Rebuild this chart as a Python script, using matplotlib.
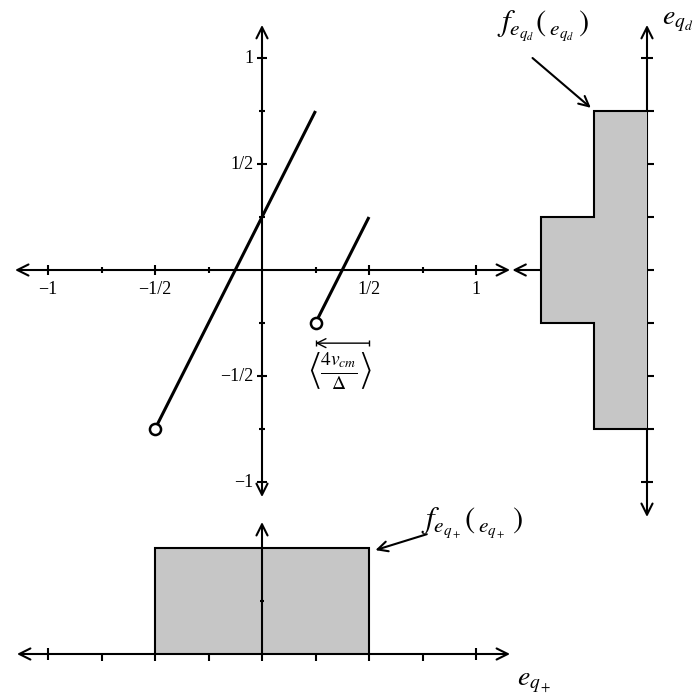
import matplotlib
matplotlib.use("Agg")
import matplotlib.pyplot as plt

plt.rcParams["font.family"] = ["Liberation Serif", "DejaVu Serif"]
plt.rcParams["mathtext.fontset"] = "stix"

# transfer characteristic: two branches of slope 2, open circle at each lower end
branch_x = [[-0.5, 0.25], [0.25, 0.5]]
branch_y = [[-0.75, 0.75], [-0.25, 0.25]]

# pdf of e_qd (right panel) and of e_q+ (bottom panel)
qd_edges = [-0.75, -0.25, 0.25, 0.75]
qd_density = [0.5, 1.0, 0.5]
qp_edges = [-0.5, 0.5]
qp_density = [1.0]

major_ticks = [-1, -0.5, 0.5, 1]
major_labels = ["\u22121", "\u22121/2", "1/2", "1"]
minor_ticks = [-0.75, -0.25, 0.25, 0.75]
quarter_ticks = [-0.75, -0.5, -0.25, 0, 0.25, 0.5, 0.75]

# width of the step between the two branches
step_lo, step_hi = 0.25, 0.5
step_y = -0.345

W = H = 700
FILL = "#c6c6c6"
LW = 1.5


def add_px_axes(fig, x0, y0, x1, y1):
    ax = fig.add_axes([x0 / W, 1 - y1 / H, (x1 - x0) / W, (y1 - y0) / H])
    ax.set_axis_off()
    ax.patch.set_alpha(0)
    return ax


def arrow(ax, start, end, style="->", lw=LW, scale=20, z=2):
    ax.annotate("", xy=end, xytext=start,
                arrowprops=dict(arrowstyle=style, lw=lw, color="k",
                                mutation_scale=scale, shrinkA=0, shrinkB=0),
                zorder=z)


fig = plt.figure(figsize=(7, 7), dpi=100)

# main plot
ax = add_px_axes(fig, 0, 0, 520, 520)
ax.set_xlim(-1.2243, 1.2056)
ax.set_ylim(-1.1792, 1.2736)

arrow(ax, (-1.154, 0), (1.159, 0), "<->")
arrow(ax, (0, -1.071), (0, 1.156), "<->")

ax.plot(major_ticks, [0] * 4, ls="none", marker="|", ms=7, mew=LW, color="k")
ax.plot(minor_ticks, [0] * 4, ls="none", marker="|", ms=4, mew=LW, color="k")
ax.plot([0] * 4, major_ticks, ls="none", marker="_", ms=7, mew=LW, color="k")
ax.plot([0] * 4, minor_ticks, ls="none", marker="_", ms=4, mew=LW, color="k")

for v, lab in zip(major_ticks, major_labels):
    ax.annotate(lab, (v, 0), xytext=(0, -8), textcoords="offset points",
                ha="center", va="top", fontsize=13)
    ax.annotate(lab, (0, v), xytext=(-6, 0), textcoords="offset points",
                ha="right", va="center", fontsize=13)

for bx, by in zip(branch_x, branch_y):
    ax.plot(bx, by, color="k", lw=2.2, solid_capstyle="butt", zorder=4)
    ax.plot(bx[0], by[0], "o", mfc="white", mec="k", ms=8, mew=1.8, zorder=5)

arrow(ax, (step_hi, step_y), (step_lo, step_y), "->", lw=1.0, scale=16)
ax.plot([step_lo, step_hi], [step_y] * 2, ls="none", marker="|", ms=5,
        mew=1.0, color="k")
ax.text((step_lo + step_hi) / 2 - 0.01, -0.478,
        r"$\left\langle\frac{4v_{cm}}{\Delta}\right\rangle$",
        ha="center", va="center", fontsize=20)

# right panel: pdf of e_qd, density grows to the left
axr = add_px_axes(fig, 505, 0, 700, 540)
axr.set_xlim(1.3396, -0.5)
axr.set_ylim(-1.2736, 1.2736)

arrow(axr, (0, -1.165), (0, 1.156), "<->")
arrow(axr, (0, 0), (1.27, 0), "->", z=1)
axr.stairs(qd_density, qd_edges, orientation="horizontal", fill=True,
           facecolor=FILL, edgecolor="none", zorder=3)
axr.stairs(qd_density, qd_edges, orientation="horizontal", fill=False,
           color="k", lw=LW, zorder=4)
axr.plot([0] * 7, quarter_ticks, ls="none", marker=1, ms=5, mew=LW, color="k",
         zorder=5)
axr.plot([0, 0], [-1, 1], ls="none", marker="_", ms=8, mew=LW, color="k")

axr.text(-0.14, 1.17, r"$e_{q_d}$", ha="left", va="center", fontsize=20)
axr.text(0.98, 1.15, r"$f_{e_{q_d}}(\,{}_{e_{q_d}}\,)$", ha="center",
         va="center", fontsize=22)
arrow(axr, (1.08, 1.0), (qd_density[-1] + 0.03, qd_edges[-1] + 0.015), "->",
      scale=18)

# bottom panel: pdf of e_q+
axb = add_px_axes(fig, 0, 500, 560, 700)
axb.set_xlim(-1.2243, 1.3925)
axb.set_ylim(-0.434, 1.4528)

arrow(axb, (-1.145, 0), (1.159, 0), "<->")
arrow(axb, (0, 0), (0, 1.245), "->")
axb.stairs(qp_density, qp_edges, fill=True, facecolor=FILL, edgecolor="none",
           zorder=1)
axb.stairs(qp_density, qp_edges, fill=False, color="k", lw=LW, zorder=3)
axb.plot(quarter_ticks, [0] * 7, ls="none", marker=3, ms=5, mew=LW, color="k",
         zorder=4)
axb.plot([-1, 1], [0, 0], ls="none", marker="|", ms=8, mew=LW, color="k")
axb.plot([0], [0.5], ls="none", marker="_", ms=3, mew=LW, color="k")

axb.text(1.19, -0.27, r"$e_{q_+}$", ha="left", va="center", fontsize=20)
axb.text(0.98, 1.23, r"$f_{e_{q_+}}(\,{}_{e_{q_+}}\,)$", ha="center",
         va="center", fontsize=22)
arrow(axb, (0.77, 1.13), (qp_edges[-1] + 0.03, qp_density[-1] - 0.02), "->",
      scale=18)

fig.savefig("out.png", dpi=100)
